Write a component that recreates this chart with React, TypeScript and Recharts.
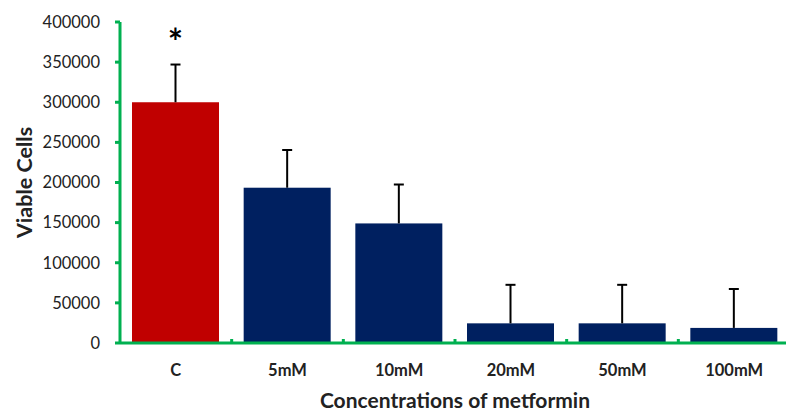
import { BarChart, Bar, XAxis, YAxis, Cell } from "recharts";

const categories = ["C", "5mM", "10mM", "20mM", "50mM", "100mM"];
const viableCells = [300000, 193500, 149000, 24500, 24500, 18800];
const errorUp = [47000, 47000, 48500, 48000, 48000, 48500];
const significance = ["*", "", "", "", "", ""];
const barColors = ["#C00000", "#002060", "#002060", "#002060", "#002060", "#002060"];
const yTicks = [0, 50000, 100000, 150000, 200000, 250000, 300000, 350000, 400000];

const data = categories.map((c, i) => ({
  name: c,
  viable: viableCells[i],
  err: errorUp[i],
  sig: significance[i],
}));

const GREEN = "#00B050";
const FONT = "Lato, 'Open Sans', sans-serif";

// bar + one-sided (upper) error bar + significance mark
const BarWithError = (props: any) => {
  const { x, y, width, height, fill, payload } = props;
  if (!height) return null;
  const pxPerUnit = height / payload.viable;
  const top = y - payload.err * pxPerUnit;
  const cx = x + width / 2;
  return (
    <g>
      <rect x={x} y={y} width={width} height={height} fill={fill} />
      <line x1={cx} y1={y} x2={cx} y2={top} stroke="#000" strokeWidth={2} />
      <line x1={cx - 5} y1={top} x2={cx + 5} y2={top} stroke="#000" strokeWidth={2} />
      {payload.sig ? (
        <text x={cx} y={top - 10} textAnchor="middle" fontSize={36} fontWeight="bold" fill="#000" fontFamily={FONT}>
          {payload.sig}
        </text>
      ) : null}
    </g>
  );
};

const XTick = (props: any) => {
  const { x, y, payload } = props;
  const half = payload.offset ?? 55.8;
  return (
    <g>
      <line x1={x + half} y1={y} x2={x + half} y2={y - 4} stroke={GREEN} strokeWidth={3} />
      <text x={x} y={y + 33} textAnchor="middle" fontSize={16.5} fontWeight="bold" fill="#222" fontFamily={FONT}>
        {payload.value}
      </text>
    </g>
  );
};

export default function App() {
  return (
    <div style={{ position: "absolute", left: 0, top: 0, width: 786, height: 415, overflow: "hidden", background: "#fff" }}>
      <BarChart width={790} height={415} data={data} margin={{ top: 22, right: 0, bottom: 0, left: 0 }}>
        <XAxis
          dataKey="name"
          height={72}
          axisLine={{ stroke: GREEN, strokeWidth: 3 }}
          tickLine={false}
          tickSize={0}
          tickMargin={0}
          tick={<XTick />}
          label={{ value: "Concentrations of metformin", position: "center", dy: 22, fontSize: 21, fontWeight: "bold", fill: "#222", fontFamily: FONT }}
        />
        <YAxis
          width={120}
          domain={[0, 400000]}
          ticks={yTicks}
          interval={0}
          axisLine={{ stroke: GREEN, strokeWidth: 3 }}
          tickLine={{ stroke: GREEN, strokeWidth: 3 }}
          tickSize={5}
          tickMargin={15}
          tick={{ fontSize: 16.5, fill: "#222", fontFamily: FONT }}
          label={{ value: "Viable Cells", angle: -90, position: "center", dx: -36, fontSize: 21.5, fontWeight: "bold", fill: "#222", fontFamily: FONT }}
        />
        <Bar dataKey="viable" barSize={87} shape={<BarWithError />} isAnimationActive={false}>
          {data.map((d, i) => (
            <Cell key={d.name} fill={barColors[i]} />
          ))}
        </Bar>
      </BarChart>
    </div>
  );
}
